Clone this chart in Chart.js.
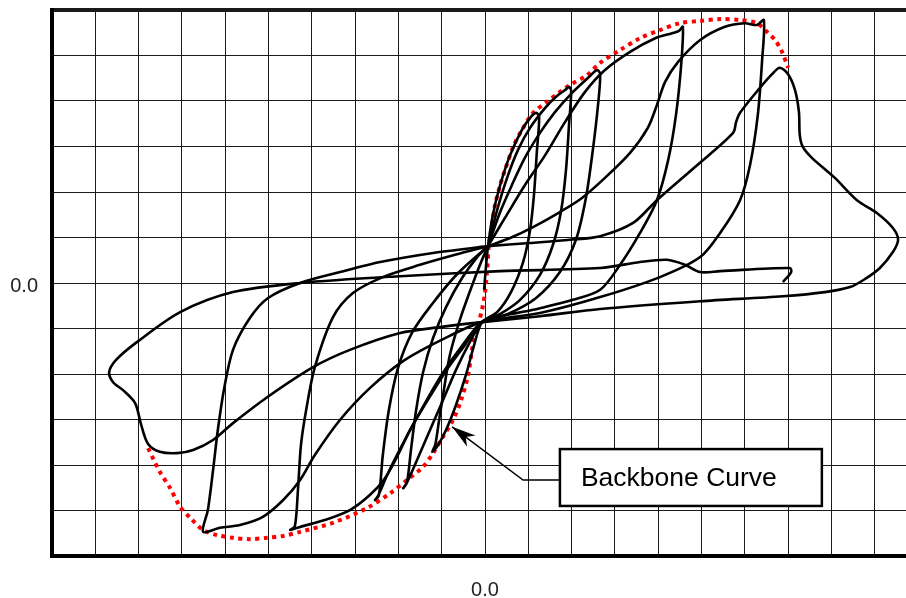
<!DOCTYPE html>
<html>
<head>
<meta charset="utf-8">
<script src="https://cdn.jsdelivr.net/npm/chart.js@4.4.1/dist/chart.umd.min.js"></script>
<style>
  html, body { margin: 0; padding: 0; background: #fff; overflow: hidden; }
  #wrap { position: relative; width: 930px; height: 598px; }
</style>
</head>
<body>
<div id="wrap"><canvas id="hyst"></canvas></div>
<script>
// axes in grid divisions, only the zero tick is labelled
const X_MIN = -10, X_MAX = 10;
const Y_MIN = -6, Y_MAX = 6;
const ZERO_LABEL = '0.0';

// [displacement, load] per cycle
const cycle1 = [
  [-0.02,-0.15],[0.02,0.33],[0.07,0.81],[0.18,1.49],[0.35,2.15],[0.58,2.81],[0.85,3.36],[1.06,3.65],[1.18,3.74],[1.25,3.65],
  [1.20,2.92],[1.13,1.93],[1.04,1.16],[0.88,0.46],[0.60,-0.20],[0.28,-0.64],[-0.07,-0.86],
  [-0.25,-1.36],[-0.44,-2.02],[-0.67,-2.68],[-0.90,-3.23],[-1.11,-3.60],[-1.22,-3.71],[-1.15,-3.56],
  [-1.06,-3.01],[-0.95,-2.35],[-0.81,-1.58],[-0.58,-0.81],[-0.32,-0.11],[-0.09,0.46],[0.07,0.81]
];
const cycle2 = [
  [0.07,0.81],[0.28,1.60],[0.51,2.31],[0.76,2.92],[1.04,3.41],[1.39,3.85],[1.66,4.11],[1.85,4.24],[1.94,4.31],[1.99,4.22],
  [1.94,3.47],[1.87,2.48],[1.76,1.60],[1.57,0.84],[1.27,0.18],[0.81,-0.37],[0.35,-0.68],[-0.07,-0.86],
  [-0.35,-1.30],[-0.67,-1.91],[-0.99,-2.62],[-1.32,-3.34],[-1.62,-4.00],[-1.82,-4.42],[-1.89,-4.51],[-1.80,-4.37],
  [-1.71,-3.67],[-1.59,-2.79],[-1.43,-1.96],[-1.20,-1.21],[-0.90,-0.53],[-0.53,0.11],[-0.18,0.57],[0.07,0.81]
];
const cycle3 = [
  [0.07,0.81],[0.35,1.56],[0.62,2.15],[0.92,2.75],[1.27,3.30],[1.62,3.76],[2.01,4.18],[2.38,4.51],[2.59,4.68],[2.66,4.59],
  [2.61,3.91],[2.49,2.92],[2.33,1.87],[2.10,0.95],[1.73,0.24],[1.18,-0.33],[0.53,-0.68],[-0.07,-0.86],
  [-0.53,-1.38],[-0.99,-2.00],[-1.45,-2.75],[-1.89,-3.52],[-2.24,-4.18],[-2.47,-4.68],[-2.54,-4.77],[-2.45,-4.66],
  [-2.36,-3.78],[-2.22,-2.79],[-2.01,-1.87],[-1.69,-1.10],[-1.22,-0.46],[-0.62,0.22],[0.07,0.81]
];
const cycle4 = [
  [0.07,0.81],[0.46,1.43],[0.92,2.15],[1.39,2.81],[1.85,3.54],[2.31,4.20],[2.77,4.68],[3.35,5.08],[3.93,5.38],[4.32,5.49],[4.48,5.54],[4.57,5.63],
  [4.53,4.79],[4.41,3.69],[4.23,2.70],[3.97,1.82],[3.58,1.10],[3.12,0.40],[2.66,-0.15],[2.03,-0.37],[1.11,-0.59],[-0.07,-0.86],
  [-0.46,-1.36],[-0.92,-1.96],[-1.39,-2.68],[-1.73,-3.23],[-2.01,-3.78],[-2.31,-4.29],[-2.66,-4.66],[-3.12,-4.99],[-3.70,-5.21],[-4.27,-5.36],[-4.50,-5.43],[-4.39,-5.34],
  [-4.32,-4.55],[-4.25,-3.56],[-4.13,-2.79],[-3.93,-1.85],[-3.51,-0.75],[-3.05,-0.22],[-2.36,0.13],[-1.50,0.40],[-0.69,0.62],[0.07,0.81]
];
const cycle5 = [
  [0.07,0.81],[0.58,0.99],[1.11,1.23],[1.73,1.56],[2.24,1.87],[2.77,2.31],[3.35,2.86],[3.76,3.41],[3.97,3.91],[4.16,4.42],[4.46,4.86],[4.97,5.34],[5.54,5.63],[6.00,5.71],[6.28,5.67],[6.44,5.78],
  [6.40,4.90],[6.30,3.69],[6.12,2.59],[5.89,1.82],[5.43,1.10],[4.97,0.57],[4.04,0.13],[2.66,-0.31],[1.27,-0.66],[-0.07,-0.86],
  [-0.92,-1.21],[-1.85,-1.69],[-2.66,-2.31],[-3.35,-3.01],[-3.93,-3.78],[-4.27,-4.33],[-4.66,-4.77],[-5.13,-5.14],[-5.66,-5.32],[-6.12,-5.38],[-6.51,-5.47],
  [-6.40,-4.99],[-6.28,-4.11],[-6.17,-3.23],[-6.03,-2.35],[-5.82,-1.47],[-5.43,-0.77],[-5.01,-0.33],[-4.27,0.00],[-3.35,0.24],[-2.42,0.46],[-1.20,0.66],[0.07,0.81]
];
const cycle6 = [
  [0.07,0.81],[1.04,0.88],[1.96,0.95],[2.66,1.03],[3.42,1.32],[3.97,1.82],[4.85,2.55],[5.73,3.30],[5.80,3.54],[5.89,3.74],[6.35,4.29],[6.63,4.59],[6.81,4.73],
  [7.00,4.59],[7.16,4.24],[7.25,3.76],[7.27,3.25],[7.34,2.99],[7.55,2.75],[8.08,2.31],[8.59,1.82],[9.05,1.54],[9.42,1.21],[9.54,0.95],[9.42,0.68],[9.12,0.33],[8.78,0.09],[8.43,-0.09],[7.85,-0.20],
  [6.88,-0.29],[4.97,-0.40],[2.66,-0.57],[1.27,-0.73],[-0.07,-0.86],
  [-1.04,-0.97],[-1.96,-1.10],[-3.12,-1.47],[-3.97,-1.85],[-5.03,-2.51],[-5.82,-3.08],[-6.28,-3.45],[-6.74,-3.67],[-7.11,-3.74],[-7.51,-3.71],[-7.78,-3.54],[-7.94,-3.12],[-8.08,-2.64],[-8.34,-2.37],[-8.59,-2.18],[-8.68,-1.96],
  [-8.52,-1.69],[-8.04,-1.30],[-7.04,-0.64],[-5.82,-0.20],[-4.27,0.00],[-1.96,0.15],[0.35,0.26],[2.66,0.33],[3.58,0.46],[4.20,0.51],[4.62,0.40],[4.97,0.24],[5.43,0.26],[7.04,0.33],[7.07,0.24],[6.88,0.02]
];
const backbone = [
  [-7.78,-3.63],[-7.67,-3.85],[-7.51,-4.15],[-7.27,-4.51],[-7.04,-4.92],[-6.81,-5.16],[-6.51,-5.43],[-6.19,-5.54],[-5.82,-5.60],[-5.43,-5.63],
  [-5.03,-5.60],[-4.66,-5.56],[-4.27,-5.47],[-3.51,-5.27],[-2.73,-4.95],[-2.19,-4.62],[-1.80,-4.33],[-1.43,-4.04],[-1.20,-3.74],[-0.97,-3.38],
  [-0.74,-3.01],[-0.55,-2.57],[-0.39,-2.02],[-0.28,-1.36],[-0.16,-0.92],[-0.07,-0.59],[0.00,-0.22],[0.05,0.29],[0.09,0.84],[0.16,1.27],
  [0.23,1.71],[0.35,2.15],[0.46,2.48],[0.65,2.99],[0.85,3.36],[1.11,3.74],[1.43,3.98],[1.73,4.20],[1.96,4.35],[2.36,4.57],
  [2.66,4.84],[3.12,5.12],[3.58,5.38],[4.04,5.56],[4.50,5.71],[4.97,5.76],[5.43,5.80],[5.89,5.78],[6.28,5.71],[6.51,5.52],[6.70,5.34],[6.86,5.08],[7.00,4.73]
];

// callout: box corners, elbow of the leader, arrow tip (data units)
const NOTE_TEXT = 'Backbone Curve';
const NOTE_BOX = [1.73, -3.65, 7.78, -4.90];
const NOTE_ELBOW = [0.88, -4.33];
const NOTE_TIP = [-0.76, -3.16];

const FONT = '"Liberation Sans", Arial, Helvetica, sans-serif';
const toXY = arr => arr.map(([x, y]) => ({ x, y }));

const backboneNote = {
  id: 'backboneNote',
  afterDatasetsDraw(chart) {
    const { ctx, scales: { x, y } } = chart;
    const left = x.getPixelForValue(NOTE_BOX[0]), top = y.getPixelForValue(NOTE_BOX[1]);
    const right = x.getPixelForValue(NOTE_BOX[2]), bottom = y.getPixelForValue(NOTE_BOX[3]);
    const ex = x.getPixelForValue(NOTE_ELBOW[0]), ey = y.getPixelForValue(NOTE_ELBOW[1]);
    const tx = x.getPixelForValue(NOTE_TIP[0]), ty = y.getPixelForValue(NOTE_TIP[1]);
    ctx.save();
    ctx.strokeStyle = '#000';
    ctx.lineWidth = 1.5;
    ctx.beginPath();
    ctx.moveTo(left, ey);
    ctx.lineTo(ex, ey);
    ctx.lineTo(tx, ty);
    ctx.stroke();
    // arrow head
    const a = Math.atan2(ty - ey, tx - ex);
    const len = 24, half = 7, notch = 17;
    const bx = tx - len * Math.cos(a), by = ty - len * Math.sin(a);
    ctx.fillStyle = '#000';
    ctx.beginPath();
    ctx.moveTo(tx, ty);
    ctx.lineTo(bx + half * Math.sin(a), by - half * Math.cos(a));
    ctx.lineTo(tx - notch * Math.cos(a), ty - notch * Math.sin(a));
    ctx.lineTo(bx - half * Math.sin(a), by + half * Math.cos(a));
    ctx.closePath();
    ctx.fill();
    // box
    ctx.fillStyle = '#fff';
    ctx.fillRect(left, top, right - left, bottom - top);
    ctx.lineWidth = 2.5;
    ctx.strokeRect(left, top, right - left, bottom - top);
    ctx.fillStyle = '#000';
    ctx.font = '26.5px ' + FONT;
    ctx.textAlign = 'left';
    ctx.textBaseline = 'middle';
    ctx.fillText(NOTE_TEXT, left + 21, (top + bottom) / 2 + 1);
    ctx.restore();
  }
};

const loopStyle = { showLine: true, borderColor: '#000', borderWidth: 2.6, pointRadius: 0, tension: 0.3, fill: false };

new Chart(document.getElementById('hyst'), {
  type: 'scatter',
  data: {
    datasets: [
      { ...loopStyle, label: 'Cycle 1', data: toXY(cycle1) },
      { ...loopStyle, label: 'Cycle 2', data: toXY(cycle2) },
      { ...loopStyle, label: 'Cycle 3', data: toXY(cycle3) },
      { ...loopStyle, label: 'Cycle 4', data: toXY(cycle4) },
      { ...loopStyle, label: 'Cycle 5', data: toXY(cycle5) },
      { ...loopStyle, label: 'Cycle 6', data: toXY(cycle6) },
      { label: 'Backbone', data: toXY(backbone), showLine: true, borderColor: '#ff0000', borderWidth: 4,
        borderDash: [4, 4.5], borderCapStyle: 'butt', pointRadius: 0, tension: 0.3, fill: false }
    ]
  },
  options: {
    responsive: true,
    maintainAspectRatio: false,
    animation: false,
    layout: { padding: { top: 10, right: 12, left: 0, bottom: 0 } },
    plugins: { legend: { display: false }, tooltip: { enabled: false } },
    scales: {
      x: {
        type: 'linear', min: X_MIN, max: X_MAX,
        afterFit: s => { s.height = 42; s.paddingLeft = 0; s.paddingRight = 0; },
        border: { color: '#000', width: 4 },
        grid: { color: '#1a1a1a', lineWidth: 1, drawTicks: false },
        ticks: { stepSize: 1, autoSkip: false, maxRotation: 0, padding: 22, color: '#222',
                 font: { family: FONT, size: 20 }, callback: v => v === 0 ? ZERO_LABEL : '' }
      },
      y: {
        type: 'linear', min: Y_MIN, max: Y_MAX,
        afterFit: s => { s.width = 52; s.paddingTop = 0; s.paddingBottom = 0; },
        border: { color: '#000', width: 4 },
        grid: { color: '#1a1a1a', drawTicks: false, lineWidth: c => (c.tick && c.tick.value === Y_MAX) ? 4 : 1 },
        ticks: { stepSize: 1, autoSkip: false, padding: 14, labelOffset: 3, color: '#222',
                 font: { family: FONT, size: 20 }, callback: v => v === 0 ? ZERO_LABEL : '' }
      }
    }
  },
  plugins: [backboneNote]
});
</script>
</body>
</html>
